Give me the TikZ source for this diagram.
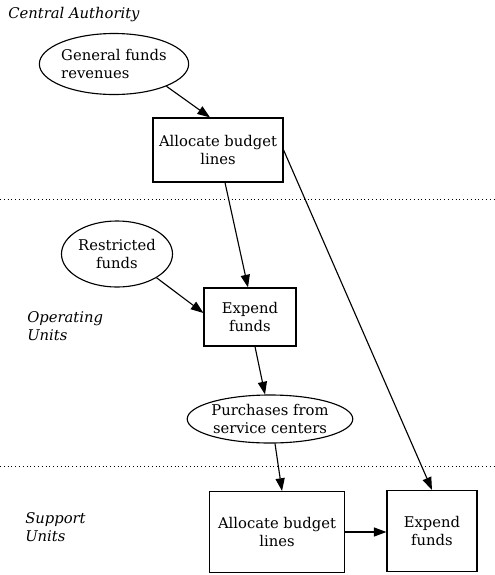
\documentclass[tikz,border=0pt]{standalone}
\usepackage{fontspec}
\setmainfont{DejaVu Serif}
\usetikzlibrary{shapes.geometric,arrows.meta}

\begin{document}
\begin{tikzpicture}[x=0.025cm,y=-0.025cm,
  box/.style={draw,line width=0.8pt,align=center,inner sep=2pt,font=\fontsize{10.5}{12.5}\selectfont},
  blob/.style={draw,ellipse,line width=0.8pt,inner sep=0pt,font=\fontsize{10.5}{12.5}\selectfont},
  lane/.style={anchor=west,align=left,inner sep=0pt,font=\itshape\fontsize{10.5}{12.5}\selectfont},
  flow/.style={-{Triangle[length=9pt,width=6.5pt]},line width=0.8pt},
  sep/.style={dotted,line width=0.7pt}]
\useasboundingbox (0,0) rectangle (495,575);

% level labels
\node[lane] (central) at (8,15) {Central Authority};
\node[lane] (operating) at (27,326) {Operating\\Units};
\node[lane] (support) at (25,527) {Support\\Units};

\draw[sep] (0,199) -- (495,199);
\draw[sep] (0,466) -- (495,466);

% central authority
\node[blob,align=left,minimum width=3.45cm,minimum height=1.525cm] (genfunds) at (114,64) {General funds\\revenues};
\node[box,minimum width=3.25cm,minimum height=1.6cm] (alloc) at (218,150) {Allocate budget\\lines};

% operating units
\node[blob,align=center,minimum width=2.775cm,minimum height=1.65cm] (restricted) at (117,254) {Restricted\\funds};
\node[box,minimum width=2.3cm,minimum height=1.45cm] (expend) at (250,317) {Expend\\funds};
\node[blob,align=center,minimum width=4.075cm,minimum height=1.2cm] (purchases) at (270,419) {Purchases from\\service centers};

% support units
\node[box,minimum width=3.375cm,minimum height=2.025cm] (suballoc) at (277,532) {Allocate budget\\lines};
\node[box,minimum width=2.25cm,minimum height=2.025cm] (subexpend) at (432,531) {Expend\\funds};

\draw[flow] (genfunds.-23) -- ([xshift=-0.2cm]alloc.north);
\draw[flow] ([xshift=0.175cm]alloc.south) -- ([xshift=-0.05cm]expend.north);
\draw[flow] (alloc.east) -- (subexpend.north);
\draw[flow] (restricted.-31) -- ([yshift=0.1cm]expend.west);
\draw[flow] ([xshift=0.125cm]expend.south) -- ([xshift=-0.125cm]purchases.north);
\draw[flow] ([xshift=0.125cm]purchases.south) -- ([xshift=0.125cm]suballoc.north);
\draw[flow] (suballoc.east) -- (suballoc.east -| subexpend.west);

\end{tikzpicture}
\end{document}
